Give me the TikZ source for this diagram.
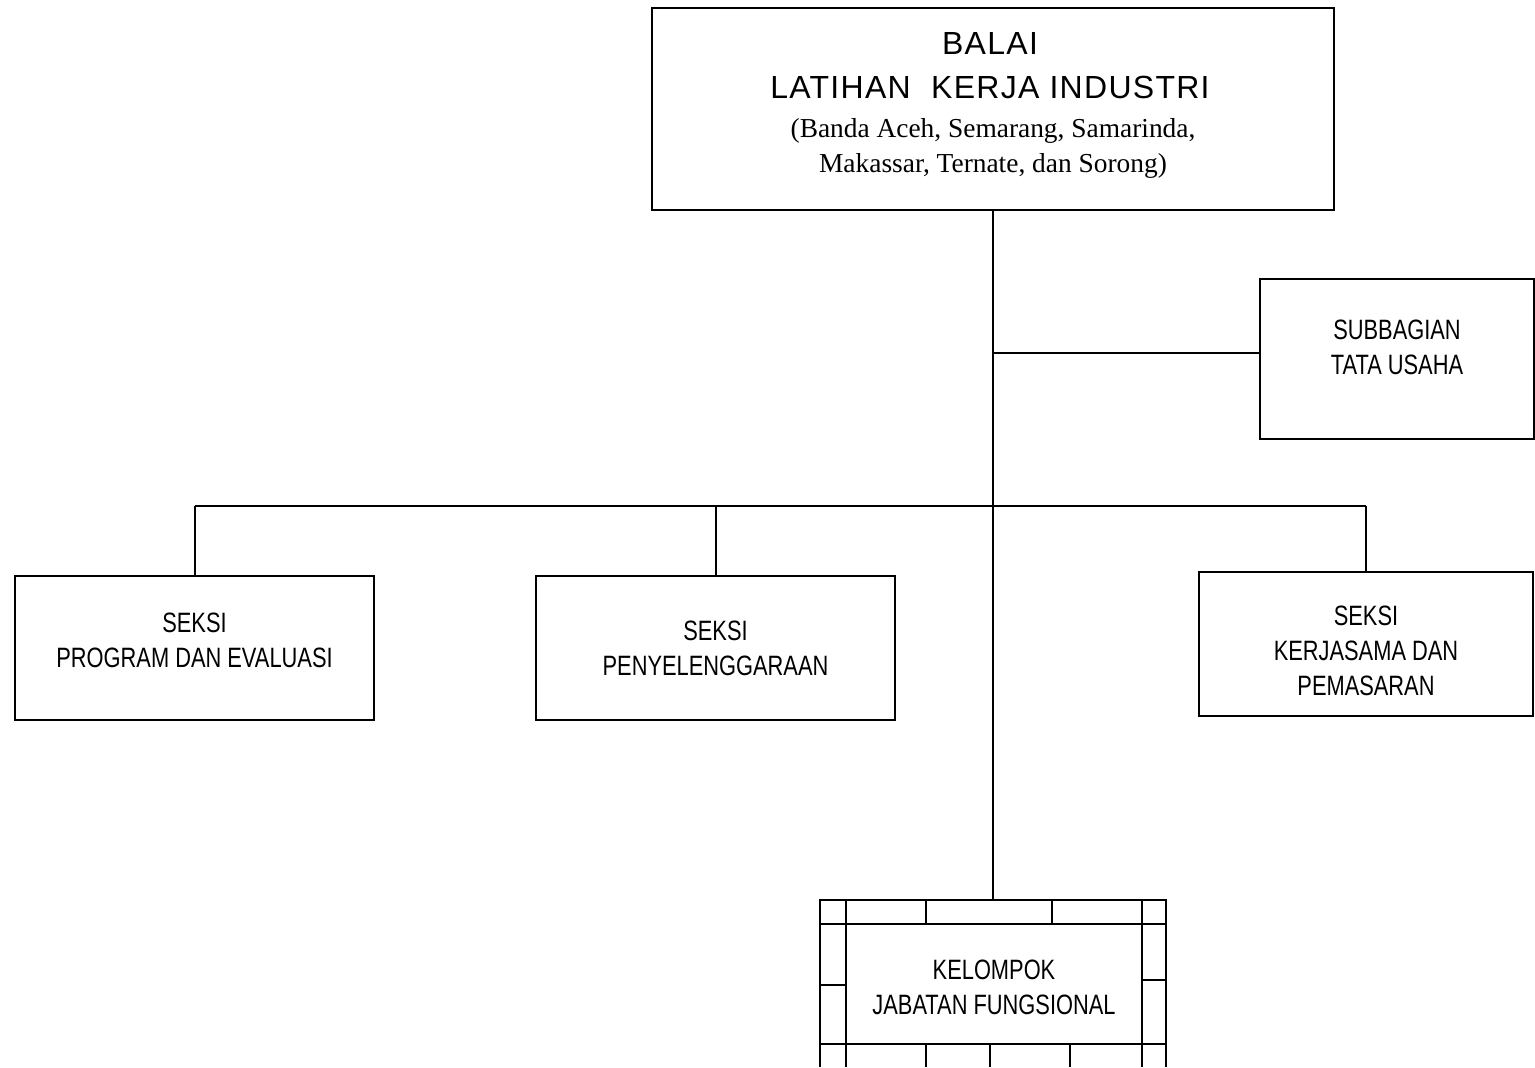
\documentclass[tikz,border=0pt]{standalone}
\usepackage{fontspec}
\setmainfont{Liberation Serif}
\newfontfamily\narrowfont[FakeStretch=0.78]{Liberation Sans}
\newfontfamily\titlefont[LetterSpace=4]{Liberation Sans}
\tikzset{unit/.style={draw,line width=1pt,align=center,inner sep=0pt,font=\narrowfont\fontsize{14}{17.5}\selectfont},
 link/.style={line width=1pt}}
\begin{document}
\begin{tikzpicture}[x=0.5pt,y=-0.5pt]
 \useasboundingbox (0,0) rectangle (1535,1067);
 \node[unit,minimum width=341pt,minimum height=101pt] (balai) at (993,109) {};
 \node[align=center,font=\titlefont\fontsize{16}{22}\selectfont] (judul) at (990,66) {BALAI\\ LATIHAN\ \ KERJA INDUSTRI};
 \node[align=center,font=\fontsize{13.7}{17.5}\selectfont] (kota) at (993,148) {(Banda Aceh, Semarang, Samarinda,\\ Makassar, Ternate, dan Sorong)};
 \node[unit,minimum width=137pt,minimum height=80pt] (tu) at (1397,359) {SUBBAGIAN\\TATA USAHA\rule[-12pt]{0pt}{12pt}};
 \node[unit,minimum width=179.5pt,minimum height=72pt] (prog) at (194.5,648) {SEKSI\\PROGRAM DAN EVALUASI\rule[-8pt]{0pt}{8pt}};
 \node[unit,minimum width=179.5pt,minimum height=72pt] (selenggara) at (715.5,648) {SEKSI\\PENYELENGGARAAN};
 \node[unit,minimum width=167pt,minimum height=72pt] (kerja) at (1366,644) {\rule{0pt}{17pt}SEKSI\\KERJASAMA DAN\\PEMASARAN};
 \node[unit,minimum width=148pt,minimum height=60pt] (kel) at (994,984) {\rule{0pt}{13pt}KELOMPOK\\JABATAN FUNGSIONAL};
 \coordinate (cabang) at (993,353);
 \coordinate (bus) at (993,506);
 \coordinate (kelatas) at (993,900);
 \draw[link] (balai.south) -- (kelatas);
 \draw[link] (cabang) -- (cabang -| tu.west);
 \draw[link] (prog.north |- bus) -- (kerja.north |- bus);
 \draw[link] (prog.north) -- (prog.north |- bus);
 \draw[link] (selenggara.north) -- (selenggara.north |- bus);
 \draw[link] (kerja.north) -- (kerja.north |- bus);
 \draw[link] (820,1067) -- (820,900) -- (1166,900) -- (1166,1067);
 \draw[link] (820,924) -- (846,924) (1142,924) -- (1166,924);
 \draw[link] (820,1044) -- (846,1044) (1142,1044) -- (1166,1044);
 \draw[link] (846,900) -- (846,1067) (1142,900) -- (1142,1067);
 \foreach \x in {926,1052} \draw[link] (\x,900) -- (\x,924);
 \foreach \x in {926,990,1070} \draw[link] (\x,1044) -- (\x,1067);
 \draw[link] (820,985) -- (846,985) (1142,980) -- (1166,980);
\end{tikzpicture}
\end{document}
